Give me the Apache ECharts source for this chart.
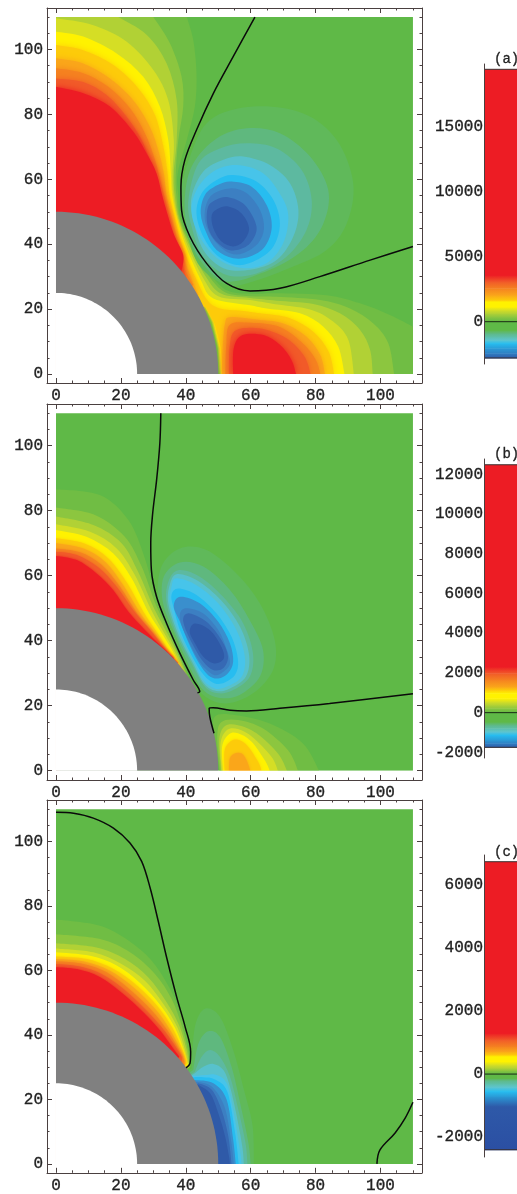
<!DOCTYPE html>
<html><head><meta charset="utf-8">
<style>html,body{margin:0;padding:0;background:#fff}#c{width:517px;height:1194px}#c canvas{filter:blur(0.4px)}</style>
<script src="https://cdn.jsdelivr.net/npm/echarts@6/dist/echarts.min.js"></script>
</head><body><div id="c"></div>
<script>
// ---------- shared values ----------
const majorTicks=[0,20,40,60,80,100];
const minorTicks=[5,10,15,25,30,35,45,50,55,65,70,75,85,90,95,105,110];
const shellRadii=[50,25];
const domainMax=110;
const BASE='#5fb947';
const POS=['#70bd44','#8cc63f','#b1d135','#d5de25','#fff200','#fdcb0a','#faa61a','#f58220','#f15a29','#ed1c24'];
const NEG=['#60b95a','#5fb87e','#5db9a0','#58c1cc','#47c4ea','#27bdf0','#3a8fcd','#3c7fc2','#3669b4','#2f5aa8'];

// ---------- panel (a): contour curves, value axes units ----------
const aP=[
[0,[[40.3,110],[42.3,102.9],[43.3,92.7],[42.8,82.4],[40.3,72.1],[37.5,61.8],[37.7,55],[38.5,47.5],[42.5,39.2],[47.7,30.7],[52.8,25.7],[59.8,24.7],[68,24.9],[83.4,24.3],[93.7,21.8],[102.9,18.2],[110,14.6]],[[110,0],[50.4,0],[49.8,8],[47.9,16],[45.5,21.5],[0,0],[0,110]]],
[1,[[30,110],[35.1,101.9],[38.7,91.6],[39.2,82.4],[37.7,72.1],[36.9,61.8],[37.1,55],[38.2,47.5],[41.9,39.2],[46.9,30.5],[52.1,25.2],[59.8,24],[68,23.8],[81.4,22.8],[90.6,20.2],[97.8,15.6],[102.4,9.5],[104.2,0]],[[50.5,0],[49.9,8],[48,16],[45.6,21.4],[0,0],[0,110]]],
[2,[[19.2,110],[28,104.5],[34.1,95.7],[37.2,84.4],[37.2,72.1],[36.3,61.8],[36.6,55],[37.9,47.5],[41.3,39.2],[46.2,30],[51,24.7],[59.8,23.4],[68,22.6],[79.3,21.6],[87.5,18.7],[93.7,13.6],[96.8,7.4],[97.6,0]],[[50.7,0],[50.1,8],[48.2,16],[45.7,21.3],[0,0],[0,110]]],
[3,[[0,109.6],[11.5,107.5],[21.8,102.4],[30,93.7],[34.6,84.4],[36.3,72.1],[35.9,61.8],[36.2,55],[37.7,47.5],[40.7,39.2],[45.4,29.5],[50,24],[59.8,22.8],[67,21.6],[78.3,19.9],[85.5,16.1],[90.1,10.5],[91.8,0]],[[50.9,0],[50.3,8],[48.4,16],[45.8,21.2],[0,0]]],
[4,[[0,105.5],[8.4,104],[18.7,98.8],[26.9,91.6],[32,82.4],[34.6,72.1],[35.4,61.8],[35.8,55],[37.4,47.5],[40.1,39.2],[44.6,29],[48.5,23.3],[59.8,21.2],[64.9,20.2],[75.2,18.7],[82.4,14.6],[87,8.4],[88.9,0]],[[51.1,0],[50.5,8],[48.6,16],[45.9,21],[0,0]]],
[5,[[0,101.4],[8.4,99.8],[17.7,95.2],[25.4,88],[30.5,79.8],[33.1,70],[34.4,61.8],[35,55],[36.7,47.5],[39,39.2],[43.1,29.5],[46.6,22.8],[50.5,20.2],[57,19.5],[62.9,18.7],[72.1,17.2],[79.3,13],[84,6.9],[85.7,0]],[[51.3,0],[50.8,8],[48.9,15.5],[46,20.8],[0,0]]],
[6,[[0,97.3],[8.4,95.7],[16.6,91.1],[23.8,84.4],[28.9,76.2],[31.8,68],[33.4,60.8],[34,55],[35.9,47.5],[38,39.2],[41.3,30.5],[43.9,24.4]],[[0,0]]],
[7,[[0,94.2],[8.4,92.7],[16.1,88.5],[22.8,81.9],[27.4,74.2],[30.5,66],[32.6,57.7],[35.3,47.5],[37.4,38.2],[39.8,32.1],[42.3,27.4]],[[0,0]]],
[8,[[0,91.1],[8.4,90],[15.6,86],[21.8,79.3],[26.4,72.1],[29.5,64.4],[31.5,56.7],[34.5,47.5],[36.8,38.2],[39,33],[40.3,29.5]],[[0,0]]],
[9,[[0,88.5],[8.4,86.5],[16.6,82.4],[23.8,74.7],[27.9,68],[31,61.8],[33.1,53.6],[36.2,43.4],[39.2,36.7],[38.6,31.5]],[[0,0]]],
[6,[[51.1,0],[51.4,8.4],[52.1,15.6],[53.6,17.5],[60.8,16.9],[70.1,15.6],[77.2,11.5],[81.4,5.9],[82.9,0]],[]],
[7,[[52.2,0],[52.5,9],[53.6,15.2],[60,15.8],[69,14.5],[76,9.5],[80,4.5],[81.5,0]],[]],
[8,[[53.3,0],[53.6,9],[55.5,13.5],[63,14],[71,11],[76.5,5.5],[78.5,0]],[]],
[9,[[54.6,0],[54.8,8],[57.5,12],[64,12],[69,9],[72.5,4.5],[74,0]],[]]
];
const aN=[
[0,[[47.5,78.3],[60.8,82.4],[76.2,80.3],[86.5,72.1],[91.6,58.8],[89.6,46.4],[83.4,38.2],[73.1,33.1],[60.8,28.5],[52.6,27.4],[44.4,33.1],[40.3,43.4],[38.2,53.6],[41.3,67]]],
[1,[[58.8,75.7],[69,74.2],[78.3,67],[83.9,56.7],[82.4,46.4],[76.2,38.2],[65.9,32.1],[52.6,28.5],[44.4,35.1],[40.3,45.4],[39.8,55.7],[42.3,64.9],[49.5,72.6]]],
[2,[[58.8,71.1],[68,69.5],[75.7,62.9],[78.8,53.6],[77.2,44.4],[71.1,36.2],[61.8,31],[52.6,30.5],[45.4,36.2],[41.8,45.4],[40.8,53.6],[43.9,64.9],[50.5,69.5]]],
[3,[[57.7,67],[65.9,64.4],[72.1,58.8],[74.7,50.5],[73.1,42.3],[68,35.1],[59.8,32.1],[51.6,32.6],[45.4,38.2],[42.3,47.5],[41.8,54.7],[45.4,62.4],[51.6,66]]],
[4,[[55.7,64.4],[63.9,61.8],[69.5,54.7],[71.6,48.5],[70,40.3],[64.9,34.1],[57.7,32.6],[50.5,35.1],[44.9,41.3],[41.8,49.5],[43.3,56.7],[48.5,62.4]]],
[5,[[54.6,61.3],[61.8,59.3],[67,53.6],[69,46.4],[67,39.3],[61.8,35.1],[55.7,33.6],[49.5,36.7],[45.4,42.3],[43.3,49.5],[44.9,55.7],[49.5,59.8]]],
[6,[[54.1,59.3],[60.3,57.7],[64.9,52.1],[66.5,45.4],[64.4,39.3],[59.8,36.2],[54.6,35.7],[49.5,38.2],[46.4,43.4],[44.6,49.5],[45.9,55.2],[50,58.3]]],
[7,[[53.6,57.2],[58.8,55.7],[62.9,50.5],[64.1,44.9],[62.3,40.3],[57.7,37.2],[53.6,37.2],[49.5,40.3],[46.4,45.4],[45.9,50.5],[48,55.2]]],
[8,[[53.1,54.5],[58.2,52.1],[61.8,45.4],[59.8,40.3],[55.7,38.2],[52.1,38.7],[48.5,41.8],[46.6,46.4],[46.9,51.6],[49.5,53.8]]],
[9,[[53.1,51.6],[57.2,49.5],[59.5,44.9],[57.7,40.8],[54.6,39.3],[51,40.8],[48.5,44.9],[48,49],[50,51]]]
];
const aZero=[[[61.3,110],[54.6,97.8],[48.5,86.5],[43.3,75.2],[39.7,65.9],[38.5,57.7],[38.7,50.5],[41.3,42.3],[46.4,34.1],[52.6,27.9],[59.8,25.6],[69,26.4],[81.3,30],[96.8,35.1],[110,39.3]]];

// ---------- panel (b) ----------
const bP=[
[0,[[0,86.6],[13.5,84.8],[22.3,77.1],[27.4,65.3],[31.2,52],[35.6,43.3],[38.4,36.6],[41,28.9]],[[0,0]]],
[1,[[0,81],[12,78.7],[21.2,72],[26.4,62.8],[30.8,51],[35.1,42.3],[38,36.1],[40.6,28.9]],[[0,0]]],
[2,[[0,78.2],[11.5,75.6],[20.2,70],[25.3,61.2],[30.2,50],[34.6,41.7],[37.7,35.6],[40.3,28.9]],[[0,0]]],
[3,[[0,75.8],[10.5,73.5],[18.7,68.4],[24.3,60.2],[29.4,49.4],[34,41.2],[37.1,35.6],[40,28.9]],[[0,0]]],
[4,[[0,74.1],[9.4,72],[17.6,66.9],[23.3,59.2],[28.4,48.9],[33,41.7],[36.6,35.6],[39.7,28.9]],[[0,0]]],
[5,[[0,71.5],[8.9,69.8],[16.1,65.3],[22,57.6],[26.9,48.9],[32,41.2],[35.6,35.6],[39.2,29.5]],[[0,0]]],
[6,[[0,70],[8.4,68.4],[15.1,64.3],[20.7,57.1],[26,48.4],[31,41.7],[35.1,35.6],[38.8,30.5]],[[0,0]]],
[7,[[0,68.4],[7.4,67.2],[14.1,63.3],[19.7,56.6],[25,48.4],[30,42.3],[34.1,37.1],[38.4,32]],[[0,0]]],
[8,[[0,67.4],[6.4,66.4],[13,62.6],[18.7,56.6],[23.8,49.4],[29,43.3],[33.5,37.6],[37.65,33.2]],[[0,0]]],
[9,[[0,66.1],[6.4,64.8],[12.5,60.7],[17.6,55.6],[22.3,48.9],[27.4,43.3],[32.5,38.2],[36.3,34.6]],[[0,0]]],
[0,[[50.3,0],[49,9.4],[48.9,16.6],[55.6,17.1],[65.9,14.5],[76.1,8.4],[81.1,0]],[]],
[1,[[50.5,0],[49.7,10.4],[51,15],[56.1,15.6],[63.8,13],[71.5,6.3],[74.6,0]],[]],
[2,[[50.9,0],[50.3,9.4],[52,13.7],[56.1,14],[61.8,11.5],[68.4,5.3],[71.2,0]],[]],
[3,[[51.1,0],[50.7,8.4],[52.7,12.5],[56.1,12.8],[60.7,10.2],[66.4,4.3],[68.4,0]],[]],
[4,[[51.5,0],[51.2,7.4],[53.3,11.2],[56.1,11.5],[60.2,9],[64.3,3.3],[65.9,0]],[]],
[5,[[52,0],[52,6.3],[54.1,9.2],[56.6,9.4],[59.2,7.4],[62.3,2.7],[63.3,0]],[]],
[6,[[53.3,0],[53.6,3.8],[55.1,5.3],[57.2,5.3],[58.7,3.3],[59.9,0]],[]]
];
const bN=[
[0,[[38.2,68.4],[46.4,67.9],[55.6,60.7],[62.8,51.5],[67.4,40.2],[66.9,31],[60.7,23.8],[52.5,20.7],[45.4,23.3],[40.2,31],[35.1,42.2],[31.5,52.5],[32.5,62.8]]],
[1,[[38.2,64.1],[45.4,62.8],[53.6,55.6],[59.7,46.3],[63.8,37.1],[62.8,28.9],[56.6,23.3],[50.5,22.4],[45.4,24.8],[41.2,32],[36.6,42.2],[33,51.5],[33.2,59.7]]],
[2,[[37.7,61.7],[44.3,59.7],[51.5,53.5],[57.7,45.3],[60.7,36.1],[59.7,28.9],[54.6,24.8],[50,23.8],[45.9,25.8],[41.8,33],[37.1,42.2],[34.1,51.5],[34.6,58.1]]],
[3,[[37.4,60.5],[43.8,58.4],[50.8,52.5],[56.7,44.3],[59.5,35.6],[58.5,28.9],[53.6,25.3],[49.4,24.5],[45.6,26.8],[42,33.5],[37.4,42.7],[34.6,51.5],[35.1,57.3]]],
[4,[[37.1,59.2],[43.3,57.1],[50,51.5],[55.6,43.3],[58.2,35.1],[57.2,28.9],[52.5,25.8],[48.9,25.3],[45.4,27.9],[42.3,34.1],[37.7,43.3],[35.1,51.5],[35.6,56.6]]],
[5,[[37.7,56.1],[43.3,54.1],[49.5,48.4],[54.1,41.2],[56.1,34],[55.1,29.4],[51,26.8],[47.9,27.4],[44.8,30.4],[41.2,36.6],[38.2,43.3],[36.3,50],[35.6,54.1]]],
[6,[[38.2,53.5],[44.3,51.5],[50,45.8],[53.6,39.2],[54.6,33.5],[53,30],[50,28.4],[46.9,29.4],[43.8,33.5],[40.7,39.7],[38.2,45.8],[36.3,50.5]]],
[7,[[40.2,50],[45.4,48.4],[50,43.3],[52.5,37.6],[53.6,33],[51.5,30.4],[48.9,29.4],[45.9,31.5],[43.3,35.1],[40.7,40.2],[38.7,44.8],[38.2,48.4]]],
[8,[[41.2,48.4],[46.4,45.8],[51,40.2],[53,35.1],[51.5,31.5],[48.4,31],[45.4,33.5],[42.8,37.6],[40.2,42.8],[39.2,46.9]]],
[9,[[42.8,45.3],[47.4,43.3],[51,38.1],[51.7,34.5],[48.9,33],[45.4,35.1],[42.8,39.2],[41.2,42.8]]]
];
const bZero=[
[[32.3,110],[32,100.7],[31,89.4],[29.8,79.2],[29.2,70],[29.4,61.7],[31,53.5],[34.1,45.3],[38.2,36.1],[42.3,27.9],[44.3,24.3],[43.6,24]],
[[48.7,11.5],[47.4,16.6],[47.2,19.2],[48.4,19.4],[53.6,18.6],[58.7,18.4],[69,19.2],[84.3,20.7],[110,23.7]]
];

// ---------- panel (c) ----------
const cP=[
[0,[[0,75.8],[13,74],[22,69.5],[29.5,63],[35,54.5],[38.5,46],[40.8,37],[41.5,30.1]],[[0,0]]],
[1,[[0,71.2],[13.6,69.7],[22.8,65.6],[30.5,58.9],[35.6,51.2],[38.7,43],[40.7,35.2],[41.3,30.1]],[[0,0]]],
[2,[[0,68.4],[12.5,67.1],[21.3,63.5],[28.4,57.9],[34.1,50.1],[38,42.8],[40.3,35.2],[41.1,30.1]],[[0,0]]],
[3,[[0,66.8],[11.5,65.6],[20.2,62],[27.4,56.8],[33.1,49.6],[37.4,42.4],[39.8,35.2],[40.9,30.1]],[[0,0]]],
[4,[[0,65.6],[10.5,64.5],[18.7,61.5],[25.9,56.1],[32.4,48.9],[36.7,42.1],[39.4,35.2],[40.7,30.6]],[[0,0]]],
[5,[[0,64.3],[9.5,63.5],[17.7,60.4],[24.9,55.3],[31.5,48.6],[36,41.9],[39,35.2],[40.3,31.2]],[[0,0]]],
[6,[[0,63.5],[8.9,62.7],[16.6,59.9],[23.8,54.8],[30.5,48.1],[35.1,41.6],[38.5,35.2],[39.8,31.7]],[[0,0]]],
[7,[[0,62.8],[8.4,62],[15.6,59.4],[22.8,54],[29.5,47.6],[34.3,41.4],[38,35.2],[39.4,32.2],[39.6,30]],[[0,0]]],
[8,[[0,62],[7.4,61.2],[14.6,58.6],[21.8,53.4],[28.4,47],[33.3,41.4],[37.2,35.8],[38.7,33.2],[38.7,31.5]],[[0,0]]],
[9,[[0,61],[6.4,60.4],[13.6,57.9],[20.7,52.7],[26.9,47],[32,41.4],[36.1,35.8],[38,33.2]],[[0,0]]]
];
const cN=[
[0,[[41.8,29.6],[42.8,42.5],[45.9,48.1],[50.5,45.6],[54.6,35.3],[58.2,21.9],[60.6,11.7],[61,0]],[[0,0]]],
[1,[[42.3,29.1],[43.9,37.3],[46.9,41.1],[50.5,39.4],[54.1,30.1],[57.2,16.8],[59.3,6.5],[60,0]],[[0,0]]],
[2,[[42.8,28.6],[44.9,33.2],[47.5,35.3],[50.5,33.2],[53.6,27.1],[56.2,16.8],[58.4,6.5],[59,0]],[[0,0]]],
[3,[[42.8,28.1],[45.4,30.1],[48.5,31],[51.6,29.1],[53.6,24],[55.5,15.8],[57.4,5.5],[57.9,0]],[[0,0]]],
[4,[[42.3,27.3],[46.4,27.6],[49.5,27.6],[52.6,25],[54.6,16.8],[56.5,5.5],[57.2,0]],[[0,0]]],
[5,[[42.3,26.9],[45.4,26.9],[49,26.2],[52.8,22.4],[55.2,9.6],[56.3,0]],[[0,0]]],
[6,[[42.8,26],[48.5,25],[52.6,19.9],[54.6,7.6],[55.4,0]],[[0,0]]],
[7,[[43.4,25.5],[48,24],[51.9,17.8],[53.9,7.6],[54.8,0]],[[0,0]]],
[8,[[43.9,25],[48,23],[51,16.8],[53.1,8.6],[54.1,0]],[[0,0]]],
[9,[[43.9,24.5],[47.5,21.9],[50,15.8],[52.1,8.6],[53.3,2.4],[53.6,0]],[[0,0]]]
];
const cZero=[
[[0,109],[5.4,108.7],[11.5,107.2],[17.7,104.1],[22.8,99.5],[26.4,93.8],[29,85.6],[31.5,75.3],[34.1,64],[37.2,51.7],[39.8,42.5],[41.5,34.8],[41.3,31.2],[40.1,29.8]],
[[98.9,0],[99.8,4.3],[104.5,9.6],[107.6,14.2],[110,19.1]]
];

// ---------- colour bars ----------
const barColors=['#2e59a8','#2f7ec2','#2a9ad6','#27bdf0','#5ec5cf','#5dbfab','#5eb987','#5fb947','#5fb947','#8cc63f','#b1d135','#d5de25','#fff200','#fff200','#fdcb0a','#faa61a','#f58220','#f15a29','#ed1c24','#ed1c24'];
const barCColors=['#2b4fa3','#2e59a8'].concat(barColors.slice(2));
const barAValues=[-2790,-2436,-2050,-1670,-1410,-1150,-900,-640,0,385,640,897,1150,1538,1667,2050,2564,3077,3590,19415];
const barBValues=[-1747,-1546,-1378,-1125,-958,-790,-620,-454,0,218,386,554,722,974,1142,1310,1646,1982,2318,12490];
const barCValues=[-2400,-1025,-708,-550,-412,-306,-200,-127,0,116,190,296,400,560,613,719,877,1089,1300,6738];
const barALabels=[0,5000,10000,15000];
const barBLabels=[-2000,0,2000,4000,6000,8000,10000,12000];
const barCLabels=[-2000,0,2000,4000,6000];

// ---------- helpers ----------
const FONT='Liberation Mono', INK='#222', FRAME='#4a4040';
const labelStyle={fontFamily:FONT,fontSize:16,color:INK,textBorderColor:INK,textBorderWidth:0.35,formatter:v=>String(v)};
function bez(pts,closed){
  const n=pts.length;let d='';
  const at=i=>closed?pts[(i+n)%n]:pts[Math.max(0,Math.min(n-1,i))];
  const last=closed?n:n-1;
  for(let i=0;i<last;i++){
    const p0=at(i-1),p1=at(i),p2=at(i+1),p3=at(i+2);
    const c1=[p1[0]+(p2[0]-p0[0])/6,p1[1]+(p2[1]-p0[1])/6];
    const c2=[p2[0]-(p3[0]-p1[0])/6,p2[1]-(p3[1]-p1[1])/6];
    d+='C'+c1.join(' ')+' '+c2.join(' ')+' '+p2.join(' ');
  }
  return d;
}
const option={animation:false,backgroundColor:'#fff',grid:[],xAxis:[],yAxis:[],series:[],
  title:[['(a)',47],['(b)',442],['(c)',840]].map(t=>({text:t[0],left:489,top:t[1],
    textStyle:{fontFamily:FONT,fontSize:14,fontWeight:'normal',color:INK,textBorderColor:INK,textBorderWidth:0.3}}))};
const lineStyle={color:FRAME,width:1};
function frameAxes(list,gi,range,sides,isX,labelSide){
  let mainIndex=-1;
  sides.forEach(side=>{
    [majorTicks,minorTicks].forEach((vals,k)=>{
      const withLabel=side===labelSide&&k===0;
      const ax={type:'value',gridIndex:gi,position:side,min:range[0],max:range[1],scale:true,z:10,
        splitLine:{show:false},minorTick:{show:false},
        axisLine:{show:k===0,onZero:false,lineStyle},
        axisTick:{show:true,inside:true,length:k===0?5:2.5,customValues:vals,lineStyle},
        axisLabel:withLabel?Object.assign({show:true,customValues:vals,margin:isX?5:4},labelStyle):{show:false}};
      list.push(ax);
      if(withLabel)mainIndex=list.length-1;
    });
  });
  return mainIndex;
}
function addPanel(frame,yRange,pos,neg,zero,soft){
  const gi=option.grid.length;
  option.grid.push({left:frame[0],top:frame[1],width:frame[2],height:frame[3]});
  const xRange=[-2.77,112.79];
  const xi=frameAxes(option.xAxis,gi,xRange,['bottom','top'],true,'bottom');
  const yi=frameAxes(option.yAxis,gi,yRange,['left','right'],false,'left');
  const shapes=[{fill:BASE,curve:[[0,0],[domainMax,0],[domainMax,domainMax],[0,domainMax]],raw:true}];
  pos.forEach(c=>shapes.push({fill:POS[c[0]],curve:c[1],close:c[2],soft:c[0]>=5?soft:0}));
  neg.forEach(c=>shapes.push(c[2]?{fill:NEG[c[0]],curve:c[1],close:c[2]}:{fill:NEG[c[0]],curve:c[1],closed:true}));
  shellRadii.forEach((r,k)=>shapes.push({disc:r,fill:k===0?'#808080':'#ffffff'}));
  // white margins between the frame and the plotted domain
  shapes.push({fill:'#ffffff',raw:true,curve:[[xRange[0],yRange[0]],[0,yRange[0]],[0,yRange[1]],[xRange[0],yRange[1]]]});
  shapes.push({fill:'#ffffff',raw:true,curve:[[xRange[0],yRange[0]],[xRange[1],yRange[0]],[xRange[1],0],[xRange[0],0]]});
  option.series.push({type:'custom',xAxisIndex:xi,yAxisIndex:yi,clip:true,silent:true,
    data:shapes.map((s,i)=>[i]),
    renderItem(params,api){
      const s=shapes[api.value(0)];
      let d;
      if(s.disc){
        const arc=[];
        for(let t=0;t<=90;t+=2){const a=t*Math.PI/180;arc.push(api.coord([s.disc*Math.cos(a),s.disc*Math.sin(a)]));}
        const o=api.coord([0,0]);
        d='M'+o.join(' ')+arc.map(p=>'L'+p.join(' ')).join('')+'Z';
      }else if(s.raw){
        d=s.curve.map((p,i)=>(i?'L':'M')+api.coord(p).join(' ')).join('')+'Z';
      }else{
        const pts=s.curve.map(p=>api.coord(p));
        d='M'+pts[0].join(' ')+bez(pts,!!s.closed);
        if(s.close)s.close.forEach(p=>{d+='L'+api.coord(p).join(' ');});
        d+='Z';
      }
      const style={fill:s.fill,stroke:null};
      if(s.soft){style.shadowBlur=s.soft;style.shadowColor=s.fill;}
      return {type:'path',shape:{pathData:d},style};
    }});
  zero.forEach(z=>option.series.push({type:'line',xAxisIndex:xi,yAxisIndex:yi,data:z,smooth:0.35,
    symbol:'none',silent:true,z:5,lineStyle:{color:'#0a0a0a',width:1.5}}));
}
function addBar(top,height,range,values,colors,labels){
  const gi=option.grid.length;
  option.grid.push({left:484,top:top,width:33,height:height});
  option.xAxis.push({type:'value',gridIndex:gi,min:0,max:1,show:false});
  option.yAxis.push({type:'value',gridIndex:gi,position:'left',min:range[0],max:range[1],scale:true,z:10,splitLine:{show:false},
    axisLine:{show:true,onZero:false,lineStyle},axisTick:{show:false,customValues:labels},
    axisLabel:Object.assign({show:true,customValues:labels,margin:1},labelStyle)});
  const xi=option.xAxis.length-1, yi=option.yAxis.length-1;
  option.series.push({type:'custom',xAxisIndex:xi,yAxisIndex:yi,silent:true,
    data:values.slice(0,-1).map((v,i)=>[i]),
    renderItem(params,api){
      const i=api.value(0);
      const a=api.coord([0,values[i]]),b=api.coord([1,values[i+1]]);
      return {type:'rect',shape:{x:a[0],y:b[1],width:b[0]-a[0],height:a[1]-b[1]+0.5},
        style:{stroke:null,fill:new echarts.graphic.LinearGradient(0,1,0,0,[{offset:0,color:colors[i]},{offset:1,color:colors[i+1]}])}};
    }});
  [0,values[0],values[values.length-1]].forEach((v,k)=>option.series.push({type:'line',xAxisIndex:xi,yAxisIndex:yi,
    data:[[0,v],[1,v]],symbol:'none',silent:true,z:5,lineStyle:{color:k===0?'#1a2a14':'#3a3030',width:1}}));
}
addPanel([47,8,375,375],[-2.77,112.79],aP,aN,aZero,6);
addBar(64,300,[-3254,19823],barAValues,barColors,barALabels);
addPanel([47,404,375,376],[-2.86,112.83],bP,bN,bZero,3);
addBar(459,299,[-2285,12780],barBValues,barColors,barBLabels);
addPanel([47,800,375,375],[-2.77,112.83],cP,cN,cZero,3);
addBar(855,302,[-2631,6951],barCValues,barCColors,barCLabels);
const chart=echarts.init(document.getElementById('c'),null,{renderer:'canvas'});
chart.setOption(option);
</script></body></html>
